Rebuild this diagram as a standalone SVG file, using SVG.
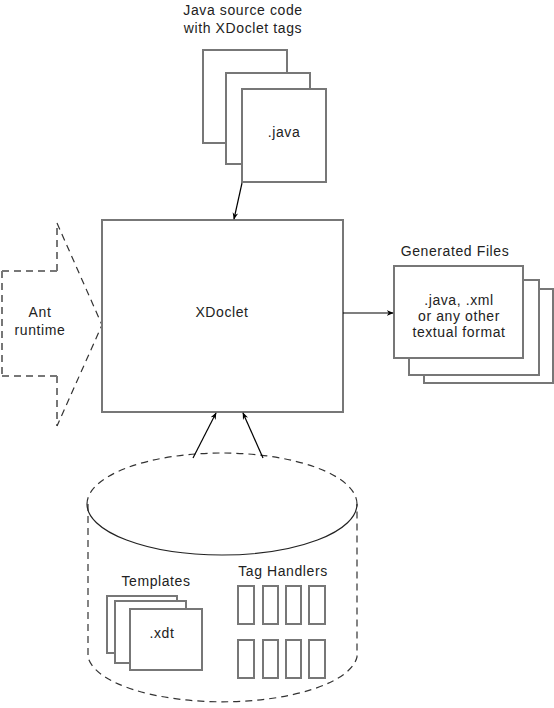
<svg xmlns="http://www.w3.org/2000/svg" width="554" height="708" viewBox="0 0 554 708">
<defs>
<marker id="ah" viewBox="0 0 10 10" refX="9" refY="5" markerWidth="7" markerHeight="7" orient="auto" markerUnits="userSpaceOnUse">
<path d="M0,1 L10,5 L0,9 L3,5 z" fill="#000"/>
</marker>
</defs>
<style>
.pg{fill:#fff;stroke:#777;stroke-width:2}
.box{fill:#fff;stroke:#777;stroke-width:2}
.th{fill:#fff;stroke:#777;stroke-width:2}
.t{font-family:"Liberation Sans",Arial,sans-serif;font-size:14px;fill:#222;text-anchor:middle;letter-spacing:0.6px}
.dash{fill:none;stroke:#333;stroke-width:1.2;stroke-dasharray:7,5}
.dashg{fill:none;stroke:#777;stroke-width:2;stroke-dasharray:7,5}
.conn{fill:none;stroke:#000;stroke-width:1.2;marker-end:url(#ah)}
</style>
<rect width="554" height="708" fill="#fff"/>

<g id="java-source">
<text class="t" x="243" y="15">Java source code</text>
<text class="t" x="243" y="33">with XDoclet tags</text>
<rect class="pg" x="203" y="50" width="84" height="93"/>
<rect class="pg" x="226" y="73" width="84" height="91"/>
<rect class="pg" x="242" y="89" width="84" height="93"/>
<text class="t" x="284" y="137">.java</text>
</g>

<g id="ant-runtime">
<path class="dashg" d="M2,271 H57 M2,376 H57 M2,271 V376 M57,271 V223 M57,376 V426"/>
<path class="dash" d="M57,223 L102,325 L57,426"/>
<text class="t" x="40" y="317">Ant</text>
<text class="t" x="40" y="335">runtime</text>
</g>

<g id="xdoclet">
<rect class="box" x="102" y="220" width="241" height="192"/>
<text class="t" x="222" y="317">XDoclet</text>
</g>

<g id="generated-files">
<text class="t" x="455" y="256">Generated Files</text>
<rect class="pg" x="424" y="289" width="129" height="94"/>
<rect class="pg" x="409" y="280" width="130" height="95"/>
<rect class="pg" x="394" y="266" width="129" height="92"/>
<text class="t" x="459" y="305">.java, .xml</text>
<text class="t" x="459" y="321">or any other</text>
<text class="t" x="459" y="337">textual format</text>
</g>

<g id="repository">
<path class="dash" d="M87,504 A135,51 0 0 1 357,504"/>
<path fill="none" stroke="#222" stroke-width="1.2" d="M87,504 A135,51 0 0 0 357,504"/>
<path class="dash" d="M88,504 V657 A135,49 0 0 0 357,657 V504"/>
</g>

<g id="templates">
<text class="t" x="156" y="586">Templates</text>
<rect class="pg" x="107" y="596" width="70" height="57"/>
<rect class="pg" x="115" y="601" width="71" height="62"/>
<rect class="pg" x="130" y="609" width="72" height="61"/>
<text class="t" x="162" y="638">.xdt</text>
</g>

<g id="tag-handlers">
<text class="t" x="283" y="576">Tag Handlers</text>
<rect class="th" x="238" y="586" width="16" height="38"/>
<rect class="th" x="263" y="586" width="15" height="38"/>
<rect class="th" x="286" y="586" width="15" height="38"/>
<rect class="th" x="309" y="586" width="16" height="38"/>
<rect class="th" x="238" y="640" width="16" height="38"/>
<rect class="th" x="263" y="640" width="15" height="38"/>
<rect class="th" x="286" y="640" width="15" height="38"/>
<rect class="th" x="309" y="640" width="16" height="38"/>
</g>

<g id="connectors">
<line class="conn" x1="242" y1="183" x2="234" y2="219"/>
<line class="conn" x1="343" y1="313" x2="393" y2="313"/>
<line class="conn" x1="193" y1="458" x2="216" y2="413"/>
<line class="conn" x1="263" y1="458" x2="243" y2="413"/>
</g>
</svg>
